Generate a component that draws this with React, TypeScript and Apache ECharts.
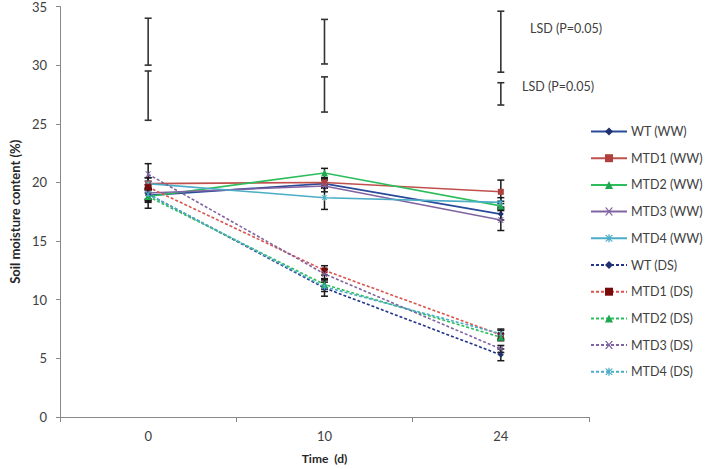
import React, { useEffect, useRef } from "react";
import * as echarts from "echarts";

const categories = ["0", "10", "24"];

const seriesNames = [
  "WT (WW)", "MTD1 (WW)", "MTD2 (WW)", "MTD3 (WW)", "MTD4 (WW)",
  "WT (DS)", "MTD1 (DS)", "MTD2 (DS)", "MTD3 (DS)", "MTD4 (DS)",
];

const wtWW = [18.9, 19.9, 17.3];
const mtd1WW = [19.9, 20.0, 19.2];
const mtd2WW = [18.8, 20.8, 18.0];
const mtd3WW = [19.1, 19.7, 16.8];
const mtd4WW = [19.9, 18.7, 18.3];
const wtDS = [19.0, 11.0, 5.3];
const mtd1DS = [19.6, 12.5, 7.0];
const mtd2DS = [18.8, 11.3, 6.8];
const mtd3DS = [20.7, 12.2, 5.8];
const mtd4DS = [19.0, 11.1, 7.1];

const sdWtWW = [0.5, 0.4, 0.5];
const sdMtd1WW = [0.5, 0.4, 1.0];
const sdMtd2WW = [1.0, 0.4, 0.4];
const sdMtd3WW = [0.5, 0.5, 0.9];
const sdMtd4WW = [0.5, 1.0, 0.4];
const sdWtDS = [0.5, 0.7, 0.5];
const sdMtd1DS = [0.5, 0.4, 0.4];
const sdMtd2DS = [0.5, 0.4, 0.3];
const sdMtd3DS = [0.9, 0.4, 0.3];
const sdMtd4DS = [0.5, 0.4, 0.4];

const lsdUpperLow = [30.0, 30.1, 29.4];
const lsdUpperHigh = [34.0, 33.9, 34.6];
const lsdLowerLow = [25.3, 26.0, 26.6];
const lsdLowerHigh = [29.5, 29.0, 28.5];

const yTicks = [0, 5, 10, 15, 20, 25, 30, 35];

const FONT = "Lato, 'Liberation Sans', sans-serif";

const X_SYMBOL = "path://M0,0L2,0L5,3L8,0L10,0L6,4L10,8L8,8L5,5L2,8L0,8L4,4Z";
const STAR_SYMBOL = "path://M0,1L2,1L5,4L8,1L10,1L6,5L10,9L8,9L5,6L2,9L0,9L4,5ZM4.2,0L5.8,0L5.8,10L4.2,10Z";

export default function App() {
  const ref = useRef<HTMLDivElement>(null);

  useEffect(() => {
    if (!ref.current) return;
    const chart = echarts.init(ref.current, undefined, { renderer: "svg" });

    const values = [wtWW, mtd1WW, mtd2WW, mtd3WW, mtd4WW, wtDS, mtd1DS, mtd2DS, mtd3DS, mtd4DS];
    const sds = [sdWtWW, sdMtd1WW, sdMtd2WW, sdMtd3WW, sdMtd4WW, sdWtDS, sdMtd1DS, sdMtd2DS, sdMtd3DS, sdMtd4DS];
    const lineColors = ["#2A4A9A", "#C0504D", "#2DBE5C", "#8064A2", "#4BACC6",
      "#24358A", "#D9534F", "#2DBE5C", "#8064A2", "#4BACC6"];
    const markerColors = ["#1F2F70", "#B0403D", "#20A850", "#8064A2", "#4BACC6",
      "#1F2F70", "#7A0A0A", "#20A850", "#8064A2", "#4BACC6"];
    const symbols = ["diamond", "rect", "triangle", X_SYMBOL, STAR_SYMBOL,
      "diamond", "rect", "triangle", X_SYMBOL, STAR_SYMBOL];

    const errData: number[][] = [];
    values.forEach((vals, s) => {
      vals.forEach((v, i) => {
        errData.push([i, v - sds[s][i], v + sds[s][i]]);
      });
    });
    const lsdData: number[][] = [];
    categories.forEach((_, i) => {
      lsdData.push([i, lsdUpperLow[i], lsdUpperHigh[i]]);
      lsdData.push([i, lsdLowerLow[i], lsdLowerHigh[i]]);
    });

    const barRender = (cap: number, color: string, width: number) => (params: any, api: any) => {
      const top = api.coord([api.value(0), api.value(2)]);
      const bot = api.coord([api.value(0), api.value(1)]);
      const x = top[0];
      return {
        type: "group",
        children: [
          { type: "line", shape: { x1: x, y1: top[1], x2: x, y2: bot[1] }, style: { stroke: color, lineWidth: width } },
          { type: "line", shape: { x1: x - cap, y1: top[1], x2: x + cap, y2: top[1] }, style: { stroke: color, lineWidth: width } },
          { type: "line", shape: { x1: x - cap, y1: bot[1], x2: x + cap, y2: bot[1] }, style: { stroke: color, lineWidth: width } },
        ],
      };
    };

    const lineSeries = seriesNames.map((name, s) => ({
      name,
      type: "line",
      data: values[s],
      symbol: symbols[s],
      symbolSize: s % 5 === 2 ? 7 : 6,
      showSymbol: true,
      z: 3,
      lineStyle: {
        color: lineColors[s],
        width: 1.6,
        type: s >= 5 ? [3, 2] : "solid",
      },
      itemStyle: { color: markerColors[s] },
    }));

    chart.setOption({
      animation: false,
      backgroundColor: "#ffffff",
      textStyle: { fontFamily: FONT },
      grid: { left: 49, right: 119, top: 5, bottom: 51, containLabel: false },
      legend: {
        data: seriesNames,
        orient: "vertical",
        left: 590,
        top: 125,
        padding: 0,
        itemWidth: 36,
        itemHeight: 10,
        itemGap: 13.7,
        textStyle: { fontSize: 12.5, color: "#404040", fontFamily: FONT, padding: [0, 0, 0, -1] },
      },
      xAxis: {
        type: "category",
        data: categories,
        boundaryGap: true,
        name: "Time  (d)",
        nameLocation: "middle",
        nameGap: 35,
        nameTextStyle: { fontSize: 12, fontWeight: "bold", color: "#262626", fontFamily: FONT },
        axisLine: { lineStyle: { color: "#888888", width: 1 } },
        axisTick: { show: true, alignWithLabel: false, length: 5, lineStyle: { color: "#888888" } },
        axisLabel: { fontSize: 13, color: "#404040", margin: 12, fontFamily: FONT },
        splitLine: { show: false },
      },
      yAxis: {
        type: "value",
        min: yTicks[0],
        max: yTicks[yTicks.length - 1],
        interval: 5,
        name: "Soil moisture content (%)",
        nameLocation: "middle",
        nameGap: 36,
        nameTextStyle: { fontSize: 13, fontWeight: "bold", color: "#262626", fontFamily: FONT },
        axisLine: { show: true, lineStyle: { color: "#888888", width: 1 } },
        axisTick: { show: true, length: 4, lineStyle: { color: "#888888" } },
        axisLabel: { fontSize: 13, color: "#404040", margin: 13, fontFamily: FONT },
        splitLine: { show: false },
      },
      graphic: [
        { type: "text", left: 530, top: 22, style: { text: "LSD (P=0.05)", fontSize: 12.5, fill: "#404040", fontFamily: FONT } },
        { type: "text", left: 522, top: 80, style: { text: "LSD (P=0.05)", fontSize: 12.5, fill: "#404040", fontFamily: FONT } },
      ],
      series: [
        {
          name: "errors",
          type: "custom",
          renderItem: barRender(3.5, "#1a1a1a", 1.5),
          data: errData,
          z: 2,
          silent: true,
        },
        {
          name: "lsd",
          type: "custom",
          renderItem: barRender(3.5, "#333333", 1.6),
          data: lsdData,
          z: 2,
          silent: true,
        },
        ...lineSeries,
      ],
    });

    return () => chart.dispose();
  }, []);

  return <div ref={ref} style={{ width: 708, height: 469, position: "absolute", left: 0, top: 0 }} />;
}
